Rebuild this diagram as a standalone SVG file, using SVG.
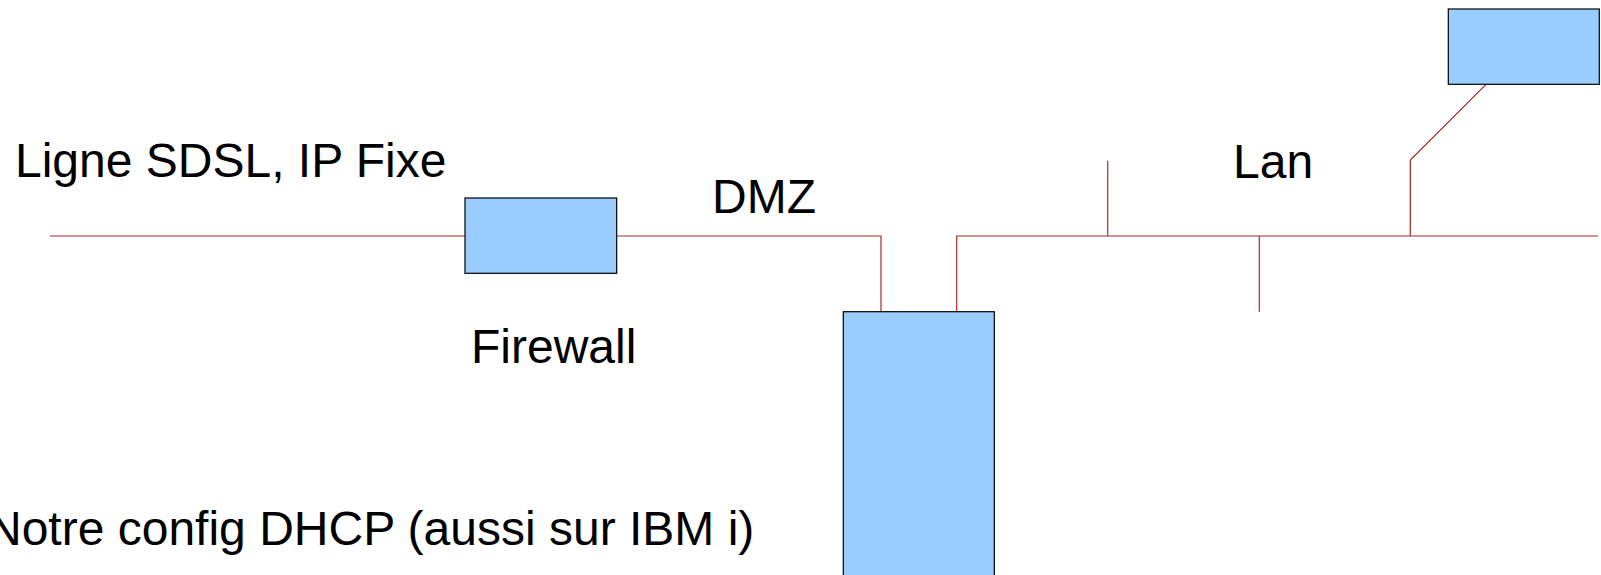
<svg xmlns="http://www.w3.org/2000/svg" width="1601" height="575" viewBox="0 0 1601 575">
<style>
.box{fill:#99ccff;stroke:#000;stroke-width:1.2}
.wire{fill:none;stroke:#a52a2a;stroke-width:1.2}
.lbl{font-family:"Liberation Sans",Arial,sans-serif;font-size:48px;fill:#000}
</style>
<rect width="1601" height="575" fill="#fff"/>
<g id="connectors">
<polyline class="wire" points="50,236 465,236"/>
<polyline class="wire" points="616.7,236 881,236 881,311.7"/>
<polyline class="wire" points="956.7,311.7 956.7,236 1598,236"/>
<polyline class="wire" points="1107.7,160.7 1107.7,236"/>
<polyline class="wire" points="1259.3,236 1259.3,311.7"/>
<polyline class="wire" points="1410.3,236 1410.3,160 1486,84.3"/>
</g>
<g id="firewall">
<rect class="box" x="465" y="198" width="151.7" height="75.3"/>
<text class="lbl" x="471" y="363">Firewall</text>
</g>
<g id="server">
<rect class="box" x="843.3" y="311.7" width="151" height="280"/>
</g>
<g id="lan-host">
<rect class="box" x="1448.3" y="9" width="151" height="75.3"/>
</g>
<g id="labels">
<text class="lbl" x="15" y="177">Ligne SDSL, IP Fixe</text>
<text class="lbl" x="712" y="213">DMZ</text>
<text class="lbl" x="1233" y="178">Lan</text>
<text class="lbl" x="-13" y="545">Notre config DHCP (aussi sur IBM i)</text>
</g>
</svg>
